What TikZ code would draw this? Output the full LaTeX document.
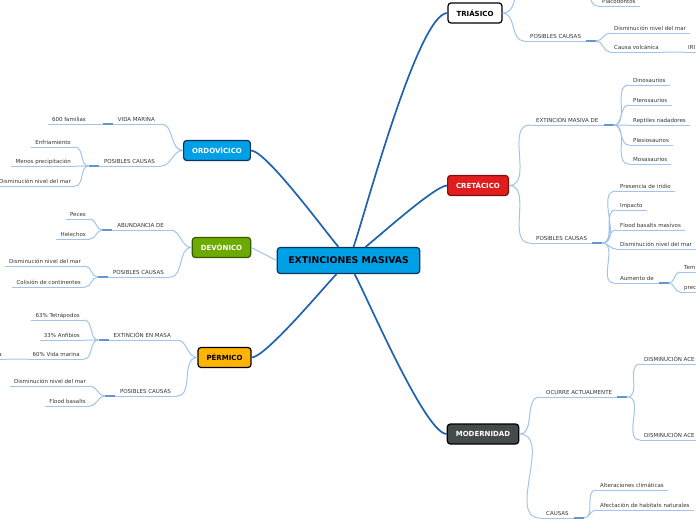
\documentclass[tikz,border=0pt]{standalone}
\usepackage{fontspec}
\setmainfont{DejaVu Sans}
\definecolor{linea}{RGB}{160,196,234}
\definecolor{tronco}{RGB}{30,98,176}
\definecolor{junta}{RGB}{100,150,210}
\definecolor{cian}{RGB}{0,160,230}
\definecolor{marino}{RGB}{16,52,90}
\definecolor{verde}{RGB}{108,170,0}
\definecolor{verdeosc}{RGB}{56,90,0}
\definecolor{naranja}{RGB}{255,180,0}
\definecolor{rojo}{RGB}{224,28,28}
\definecolor{rojoosc}{RGB}{130,14,14}
\definecolor{gris}{RGB}{69,75,75}
\definecolor{texto}{RGB}{51,51,51}
\begin{document}
\begin{tikzpicture}[x=1pt,y=-1pt,
era/.style={draw,rounded corners=3pt,line width=1.2pt,font=\fontsize{7}{8}\selectfont\bfseries,inner xsep=8.5pt,minimum height=20pt},
rama/.style={tronco,line width=1.7pt},
sub/.style={linea,line width=1pt},
hoja/.style={font=\fontsize{5.5}{6}\selectfont,text=texto,inner xsep=4pt,inner ysep=1.5pt,text height=4pt,text depth=1pt,
 append after command={(\tikzlastnode.south west) edge[sub] (\tikzlastnode.south east)}},
hojad/.style={hoja,anchor=south west},
hojai/.style={hoja,anchor=south east},
der/.style={hoja,inner xsep=6pt,anchor=south west,execute at end node={\hspace*{9pt}},
 append after command={([xshift=-10pt]\tikzlastnode.south east) edge[junta,line width=1.3pt] (\tikzlastnode.south east)}},
izq/.style={hoja,inner xsep=6pt,anchor=south east,execute at begin node={\hspace*{9pt}},
 append after command={(\tikzlastnode.south west) edge[junta,line width=1.3pt] ([xshift=10pt]\tikzlastnode.south west)}}]
\useasboundingbox (0,0) rectangle (696,520);
\clip (0,0) rectangle (696,520);
\node[era,fill=cian,draw=marino,text=black,font=\fontsize{9.3}{10}\selectfont\bfseries,inner xsep=11pt,minimum height=26pt] (raiz) at (348.5,260.5) {EXTINCIONES MASIVAS};
\node[era,fill=white,draw=black] (tria) at (475,13) {TRIÁSICO};
\node[era,fill=rojo,draw=rojoosc,text=white] (cret) at (478,185.5) {CRETÁCICO};
\node[era,fill=gris,draw=black,text=white] (mode) at (483,434) {MODERNIDAD};
\node[era,fill=cian,draw=marino,text=white] (ordo) at (217,150.5) {ORDOVÍCICO};
\node[era,fill=verde,draw=verdeosc,text=white] (devo) at (221.5,247.5) {DEVÓNICO};
\node[era,fill=naranja,draw=black] (perm) at (224.5,357.5) {PÉRMICO};
\draw[rama] ([xshift=-10pt]raiz.north) to[out=132,in=0,looseness=.3] (ordo.east);
\draw[rama] ([xshift=5pt]raiz.north) to[out=70,in=180,looseness=.3] (tria.west);
\draw[rama] ([xshift=17pt]raiz.north) to[out=37,in=180,looseness=.3] (cret.west);
\draw[rama] ([xshift=-12pt]raiz.south) to[out=225,in=0,looseness=.3] (perm.east);
\draw[rama] ([xshift=6pt]raiz.south) to[out=-60,in=180,looseness=.3] (mode.west);
\draw[sub] (raiz.west) -- (devo.east);

\coordinate (tsup) at (530,-30);
\coordinate (tplacp) at (580,-25);
\node[hojad] (tplac) at (598,6) {Placodontos};
\node[der] (tcaus) at (524,41) {POSIBLES CAUSAS};
\node[hojad] (tdism) at (610,33) {Disminución nivel del mar};
\node[hojad] (tvolc) at (610,52) {Causa volcánica};
\node[hojad] (tiri) at (684,52) {IRI};
\draw[sub] (tria.east) to[out=0,in=180] (tsup) (tria.east) to[out=0,in=180] (tcaus.south west);
\draw[sub] (tcaus.south east) to[out=0,in=180] (tdism.south west) (tcaus.south east) to[out=0,in=180] (tvolc.south west);
\draw[sub] (tvolc.south east) -- (tiri.south west) (tplacp) to[out=0,in=180] (tplac.south west);

\node[der] (cext) at (530,125) {EXTINCIÓN MASIVA DE};
\node[hojad] (dino) at (629,85) {Dinosaurios};
\node[hojad] (ptero) at (629,105) {Pterosaurios};
\node[hojad] (rept) at (629,125) {Reptiles nadadores};
\node[hojad] (plesio) at (629,145) {Plesiosaurios};
\node[hojad] (mosa) at (629,164) {Mosasaurios};
\node[der] (ccaus) at (530,243) {POSIBLES CAUSAS};
\node[hojad] (irid) at (616,191) {Presencia de iridio};
\node[hojad] (impa) at (616,210) {Impacto};
\node[hojad] (flood) at (616,230) {Flood basalts masivos};
\node[hojad] (cdism) at (616,249) {Disminución nivel del mar};
\node[der] (aum) at (614,283) {Aumento de};
\node[hojad] (temp) at (680,272) {Tem};
\node[hojad] (prec) at (680,292) {prec};
\draw[sub] (cret.east) to[out=0,in=180] (cext.south west) (cret.east) to[out=0,in=180] (ccaus.south west);
\draw[sub] (cext.south east) to[out=0,in=180] (dino.south west) (cext.south east) to[out=0,in=180] (ptero.south west)
(cext.south east) -- (rept.south west) (cext.south east) to[out=0,in=180] (plesio.south west)
(cext.south east) to[out=0,in=180] (mosa.south west);
\draw[sub] (ccaus.south east) to[out=0,in=180] (irid.south west) (ccaus.south east) to[out=0,in=180] (impa.south west)
(ccaus.south east) to[out=0,in=180] (flood.south west) (ccaus.south east) to[out=0,in=180] (cdism.south west)
(ccaus.south east) to[out=0,in=180] (aum.south west);
\draw[sub] (aum.south east) to[out=0,in=180] (temp.south west) (aum.south east) to[out=0,in=180] (prec.south west);

\node[der] (ocur) at (540,397) {OCURRE ACTUALMENTE};
\node[hojad] (mdis1) at (640,364) {DISMINUCIÓN ACE};
\node[hojad] (mdis2) at (640,440) {DISMINUCIÓN ACE};
\node[der] (mcaus) at (540,518) {CAUSAS};
\node[hojad] (clim) at (596,490) {Alteraciones climáticas};
\node[hojad] (habi) at (596,510) {Afectación de habitats naturales};
\draw[sub] (mode.east) to[out=0,in=180] (ocur.south west) (mode.east) to[out=0,in=180] (mcaus.south west);
\draw[sub] (ocur.south east) to[out=0,in=180] (mdis1.south west) (ocur.south east) to[out=0,in=180] (mdis2.south west);
\draw[sub] (mcaus.south east) to[out=0,in=180] (clim.south west) (mcaus.south east) to[out=0,in=180] (habi.south west);

\node[izq] (ovida) at (161,124) {VIDA MARINA};
\node[hojai] (ofam) at (90,124) {600 familias};
\node[izq] (ocaus) at (161,166) {POSIBLES CAUSAS};
\node[hojai] (ofrio) at (75,147) {Enfriamiento};
\node[hojai] (oprec) at (75,166) {Menos precipitación};
\node[hojai] (odism) at (75,186) {Disminución nivel del mar};
\draw[sub] (ordo.west) to[out=180,in=0] (ovida.south east) (ordo.west) to[out=180,in=0] (ocaus.south east);
\draw[sub] (ovida.south west) -- (ofam.south east);
\draw[sub] (ocaus.south west) to[out=180,in=0] (ofrio.south east) (ocaus.south west) -- (oprec.south east)
(ocaus.south west) to[out=180,in=0] (odism.south east);

\node[izq] (dabun) at (170,230) {ABUNDANCIA DE};
\node[hojai] (peces) at (90,219) {Peces};
\node[hojai] (hele) at (90,239) {Helechos};
\node[izq] (dcaus) at (170,277) {POSIBLES CAUSAS};
\node[hojai] (ddism) at (85,266) {Disminución nivel del mar};
\node[hojai] (dcoli) at (85,287) {Colisión de continentes};
\draw[sub] (devo.west) to[out=180,in=0] (dabun.south east) (devo.west) to[out=180,in=0] (dcaus.south east);
\draw[sub] (dabun.south west) to[out=180,in=0] (peces.south east) (dabun.south west) to[out=180,in=0] (hele.south east);
\draw[sub] (dcaus.south west) to[out=180,in=0] (ddism.south east) (dcaus.south west) to[out=180,in=0] (dcoli.south east);

\node[izq] (pext) at (177,340) {EXTINCIÓN EN MASA};
\node[hojai] (tetra) at (84,320) {63\% Tetrápodos};
\node[hojai] (anfi) at (84,340) {33\% Anfibios};
\node[hojai] (pvida) at (84,359) {60\% Vida marina};
\node[hojai] (pcola) at (6,359) {a};
\node[izq] (pcaus) at (177,396) {POSIBLES CAUSAS};
\node[hojai] (pdism) at (90,386) {Disminución nivel del mar};
\node[hojai] (pflood) at (90,406) {Flood basalts};
\draw[sub] (perm.west) to[out=180,in=0] (pext.south east) (perm.west) to[out=180,in=0] (pcaus.south east);
\draw[sub] (pext.south west) to[out=180,in=0] (tetra.south east) (pext.south west) -- (anfi.south east)
(pext.south west) to[out=180,in=0] (pvida.south east) (pvida.south west) -- (pcola.south east);
\draw[sub] (pcaus.south west) to[out=180,in=0] (pdism.south east) (pcaus.south west) to[out=180,in=0] (pflood.south east);
\end{tikzpicture}
\end{document}
